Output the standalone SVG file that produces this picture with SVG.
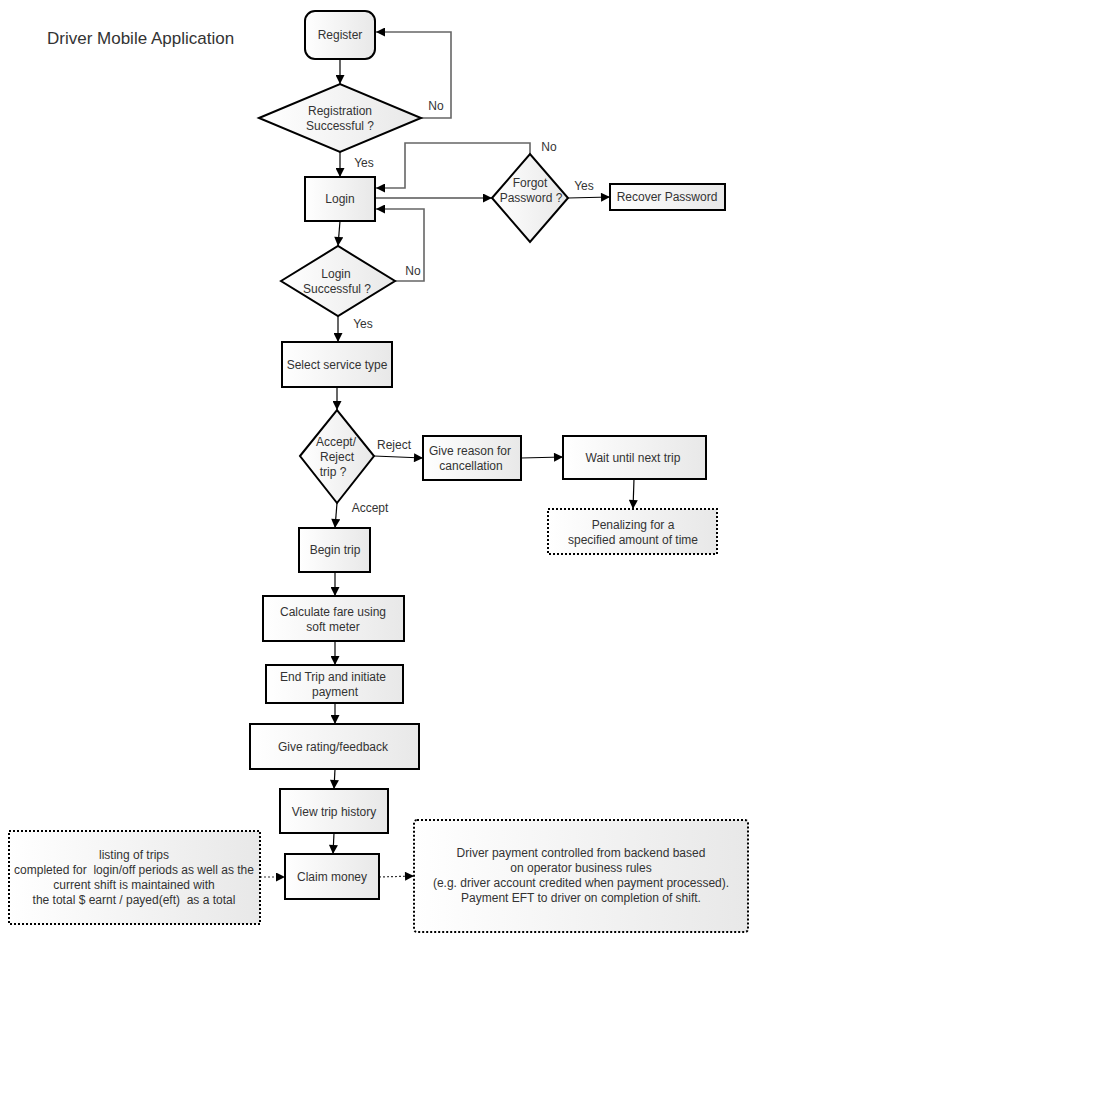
<svg xmlns="http://www.w3.org/2000/svg" width="1100" height="1100" viewBox="0 0 1100 1100">
<defs>
<linearGradient id="g" x1="0" y1="0" x2="1" y2="0">
<stop offset="0" stop-color="#ffffff"/>
<stop offset="1" stop-color="#e8e8e8"/>
</linearGradient>
<marker id="a" viewBox="0 0 10 10" refX="10" refY="5" markerWidth="12" markerHeight="9" markerUnits="userSpaceOnUse" orient="auto">
<path d="M0,0 L10,5 L0,10 z" fill="#000"/>
</marker>
<style>
.n{fill:url(#g);stroke:#000;stroke-width:2}
.d{fill:url(#g);stroke:#000;stroke-width:2;stroke-dasharray:2 2}
text{font-family:"Liberation Sans",Arial,sans-serif;font-size:12px;fill:#333;text-anchor:middle;white-space:pre}
.l{text-anchor:start}
.c{fill:none;stroke:#000;stroke-width:1.2;marker-end:url(#a)}
.f{fill:none;stroke:#666;stroke-width:1.6;marker-end:url(#a)}
.o{fill:none;stroke:#333;stroke-width:1.2;stroke-dasharray:2 2;marker-end:url(#a)}
</style>
</defs>
<rect width="1100" height="1100" fill="#fff"/>
<text x="47" y="44" class="l" style="font-size:17px">Driver Mobile Application</text>

<g id="connectors">
<path class="c" d="M340,59 V84"/>
<path class="f" d="M421,118 H451 V32 H376"/>
<path class="c" d="M340,152 V177"/>
<path class="c" d="M375,198 H492"/>
<path class="f" d="M530,154 V143 H405 V188 H376"/>
<path class="c" d="M568,198 L610,197"/>
<path class="c" d="M340,221 L338,246"/>
<path class="f" d="M395,281 H424 V209 H376"/>
<path class="c" d="M338,316 V342"/>
<path class="c" d="M337,387 V410"/>
<path class="c" d="M374,456 L423,458"/>
<path class="c" d="M521,458 L563,457"/>
<path class="c" d="M634,479 L633,509"/>
<path class="c" d="M337,503 L335,528"/>
<path class="c" d="M335,572 V596"/>
<path class="c" d="M335,641 V665"/>
<path class="c" d="M335,703 V724"/>
<path class="c" d="M335,769 L334,789"/>
<path class="c" d="M334,833 L333,854"/>
<path class="o" d="M260,877 H285"/>
<path class="o" d="M379,877 L414,876"/>
<text x="436" y="110">No</text>
<text x="364" y="167">Yes</text>
<text x="549" y="151">No</text>
<text x="584" y="190">Yes</text>
<text x="413" y="275">No</text>
<text x="363" y="328">Yes</text>
<text x="394" y="449">Reject</text>
<text x="370" y="512">Accept</text>
</g>

<g id="register"><rect class="n" x="305" y="11" width="70" height="48" rx="10"/><text x="340" y="39">Register</text></g>
<g id="reg-ok"><polygon class="n" points="259,118 340,84 421,118 340,152"/><text x="340" y="115">Registration</text><text x="340" y="130">Successful ?</text></g>
<g id="login"><rect class="n" x="305" y="177" width="70" height="44"/><text x="340" y="203">Login</text></g>
<g id="forgot"><polygon class="n" points="492,198 530,154 568,198 530,242"/><text x="530" y="187">Forgot</text><text x="531" y="202">Password ?</text></g>
<g id="recover"><rect class="n" x="610" y="184" width="115" height="26"/><text x="667" y="201">Recover Password</text></g>
<g id="login-ok"><polygon class="n" points="281,281 338,246 395,281 338,316"/><text x="336" y="278">Login</text><text x="337" y="293">Successful ?</text></g>
<g id="service"><rect class="n" x="282" y="342" width="110" height="45"/><text x="337" y="369">Select service type</text></g>
<g id="accept"><polygon class="n" points="300,456 337,410 374,456 337,503"/><text x="336" y="446">Accept/</text><text x="337" y="461">Reject</text><text x="333" y="476">trip ?</text></g>
<g id="reason"><rect class="n" x="423" y="436" width="98" height="44"/><text x="470" y="455">Give reason for</text><text x="471" y="470">cancellation</text></g>
<g id="wait"><rect class="n" x="563" y="436" width="143" height="43"/><text x="633" y="462">Wait until next trip</text></g>
<g id="penalize"><rect class="d" x="548" y="509" width="169" height="45"/><text x="633" y="529">Penalizing for a</text><text x="633" y="544">specified amount of time</text></g>
<g id="begin"><rect class="n" x="299" y="528" width="71" height="44"/><text x="335" y="554">Begin trip</text></g>
<g id="fare"><rect class="n" x="263" y="596" width="141" height="45"/><text x="333" y="616">Calculate fare using</text><text x="333" y="631">soft meter</text></g>
<g id="end"><rect class="n" x="266" y="665" width="137" height="38"/><text x="333" y="681">End Trip and initiate</text><text x="335" y="696">payment</text></g>
<g id="rating"><rect class="n" x="250" y="724" width="169" height="45"/><text x="333" y="751">Give rating/feedback</text></g>
<g id="history"><rect class="n" x="280" y="789" width="108" height="44"/><text x="334" y="816">View trip history</text></g>
<g id="claim"><rect class="n" x="285" y="854" width="94" height="45"/><text x="332" y="881">Claim money</text></g>
<g id="note-left"><rect class="d" x="9" y="831" width="251" height="93"/><text x="134" y="859">listing of trips</text><text x="134" y="874">completed for  login/off periods as well as the</text><text x="134" y="889">current shift is maintained with</text><text x="134" y="904">the total $ earnt / payed(eft)  as a total</text></g>
<g id="note-right"><rect class="d" x="414" y="820" width="334" height="112" rx="3"/><text x="581" y="857">Driver payment controlled from backend based</text><text x="581" y="872">on operator business rules</text><text x="581" y="887">(e.g. driver account credited when payment processed).</text><text x="581" y="902">Payment EFT to driver on completion of shift.</text></g>
</svg>
